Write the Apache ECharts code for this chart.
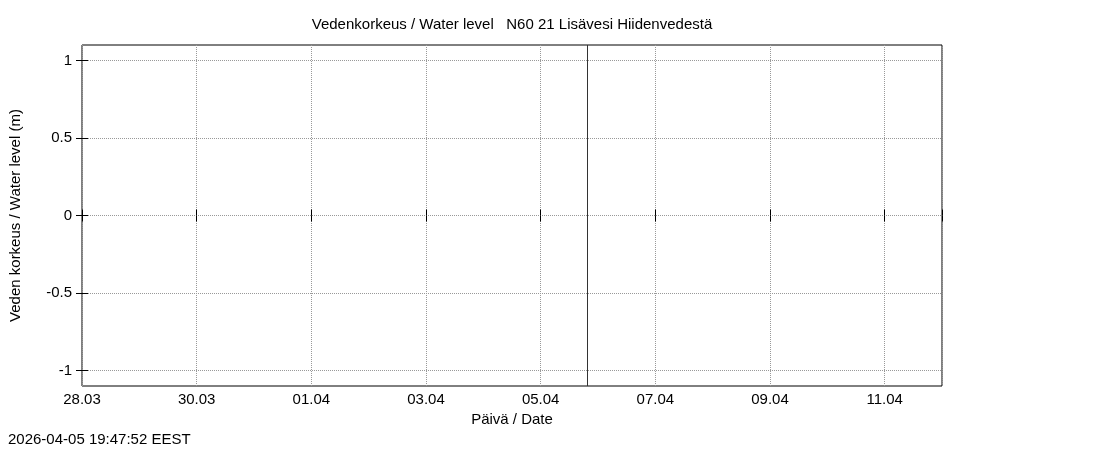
<!DOCTYPE html>
<html><head><meta charset="utf-8">
<script src="https://cdn.jsdelivr.net/npm/echarts@6/dist/echarts.min.js"></script>
<style>body{margin:0}#c{width:1100px;height:450px}</style></head>
<body><div id="c"></div>
<script>
// x axis counted in days from 28.03
var xTickLabels = ['28.03','30.03','01.04','03.04','05.04','07.04','09.04','11.04'];
var yTicks = [-1, -0.5, 0, 0.5, 1];
var nowDay = 8 + (19 + 47/60 + 52/3600) / 24; // 2026-04-05 19:47:52
var seriesData = [];
var stamp = '2026-04-05 19:47:52 EEST';

var F = 'Liberation Sans, Arial, sans-serif';
var grid = { type:'dotted', color:'#999', width:1 };

var chart = echarts.init(document.getElementById('c'));
chart.setOption({
	backgroundColor:'#fff',
	animation:false,
	title:{ text:'Vedenkorkeus / Water level   N60 21 Lisävesi Hiidenvedestä', left:507, top:12, textAlign:'center',
		textStyle:{ fontFamily:F, fontSize:15, fontWeight:'normal', color:'#000' } },
	grid:{ left:73, right:158, top:45, bottom:64, show:true, borderColor:'#000', borderWidth:1 },
	xAxis:[{
		type:'value', min:0, max:15, interval:2,
		name:'Päivä / Date', nameLocation:'middle', nameGap:26,
		nameTextStyle:{ fontFamily:F, fontSize:15, color:'#000' },
		axisLine:{ show:false },
		axisTick:{ inside:true, length:6, lineStyle:{ color:'#000' } },
		axisLabel:{ fontFamily:F, fontSize:15, color:'#000', margin:6,
			formatter:function(v){ return xTickLabels[v/2] || ''; } },
		splitLine:{ show:true, lineStyle:grid }
	},{
		type:'value', min:0, max:15, interval:2, position:'top',
		axisLine:{ show:false }, axisLabel:{ show:false },
		axisTick:{ inside:true, length:6, lineStyle:{ color:'#000' } },
		splitLine:{ show:false }
	}],
	yAxis:[{
		type:'value', min:-1.1, max:1.1,
		name:'Veden korkeus / Water level (m)', nameLocation:'middle', nameGap:59,
		nameTextStyle:{ fontFamily:F, fontSize:15, color:'#000' },
		axisLine:{ show:false },
		axisTick:{ inside:true, length:6, customValues:yTicks, lineStyle:{ color:'#000' } },
		axisLabel:{ fontFamily:F, fontSize:15, color:'#000', margin:10, customValues:yTicks },
		splitLine:{ show:true, lineStyle:grid }
	},{
		type:'value', min:-1.1, max:1.1, position:'right',
		axisLine:{ show:false }, axisLabel:{ show:false },
		axisTick:{ inside:true, length:6, customValues:yTicks, lineStyle:{ color:'#000' } },
		splitLine:{ show:false }
	}],
	graphic:[{ type:'text', left:8, top:432,
		style:{ text:stamp, font:'15px ' + F, fill:'#000' } }],
	series:[{
		type:'line', data:seriesData, symbol:'none',
		markLine:{ silent:true, symbol:'none', label:{ show:false },
			lineStyle:{ color:'#333', width:1, type:'solid' },
			data:[{ xAxis:nowDay }] }
	}]
});
</script>
</body></html>
